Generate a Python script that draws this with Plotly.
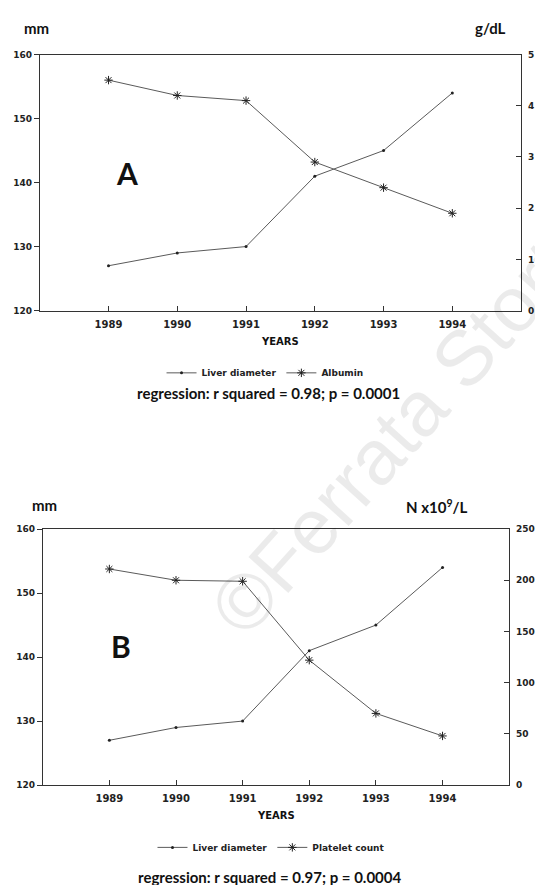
import plotly.graph_objects as go

# page body has an 8px margin; keep the figure inside the 543x893 window
PAD = 8
W, H = 543 - 2 * PAD, 893 - 2 * PAD

years = [1989, 1990, 1991, 1992, 1993, 1994]
liver_diameter_mm = [127, 129, 130, 141, 145, 154]
albumin_g_dl = [4.5, 4.2, 4.1, 2.9, 2.4, 1.9]
platelet_count = [211, 200, 199, 122, 70, 48]

mm_ticks = [120, 130, 140, 150, 160]
albumin_ticks = [0, 1, 2, 3, 4, 5]
platelet_ticks = [0, 50, 100, 150, 200, 250]

LINE = "#5a5a5a"
AX = "#333333"
NARROW = "Lato, Roboto, sans-serif"
TICKF = dict(family="DejaVu Sans", size=9, color="#222", weight="bold")
XTICKF = dict(family="DejaVu Sans", size=10, color="#222", weight="bold")


def px_x(p):
    return (p - PAD) / W


def px_y(p):
    return 1 - (p - PAD) / H


fig = go.Figure()

# Panel A
fig.add_trace(go.Scatter(x=years, y=liver_diameter_mm, name="Liver diameter", mode="lines+markers",
                         line=dict(color=LINE, width=1), marker=dict(symbol="circle", size=3, color="#222"),
                         xaxis="x", yaxis="y", legend="legend"))
fig.add_trace(go.Scatter(x=years, y=albumin_g_dl, name="Albumin", mode="lines+markers",
                         line=dict(color=LINE, width=1),
                         marker=dict(symbol="asterisk-open", size=7, color="#222", line=dict(width=1, color="#222")),
                         xaxis="x", yaxis="y2", legend="legend"))
# Panel B
fig.add_trace(go.Scatter(x=years, y=liver_diameter_mm, name="Liver diameter", mode="lines+markers",
                         line=dict(color=LINE, width=1), marker=dict(symbol="circle", size=3, color="#222"),
                         xaxis="x2", yaxis="y3", legend="legend2"))
fig.add_trace(go.Scatter(x=years, y=platelet_count, name="Platelet count", mode="lines+markers",
                         line=dict(color=LINE, width=1),
                         marker=dict(symbol="asterisk-open", size=7, color="#222", line=dict(width=1, color="#222")),
                         xaxis="x2", yaxis="y4", legend="legend2"))

common_x = dict(range=[1988, 1995], tickvals=years, ticktext=[str(y) for y in years],
                ticks="inside", ticklen=5, tickcolor=AX, showline=True, linecolor=AX, linewidth=1,
                mirror=True, showgrid=False, zeroline=False, tickfont=XTICKF, ticklabelstandoff=4)

fig.update_layout(
    width=W, height=H, margin=dict(l=0, r=0, t=0, b=0),
    paper_bgcolor="white", plot_bgcolor="white", showlegend=True,
    xaxis=dict(domain=[px_x(40), px_x(525)], anchor="y", **common_x),
    yaxis=dict(domain=[px_y(309), px_y(50)], anchor="x", range=[120, 160], tickvals=mm_ticks,
               ticks="outside", ticklen=5, tickcolor=AX, showline=True, linecolor=AX, linewidth=1,
               showgrid=False, zeroline=False, tickfont=TICKF),
    yaxis2=dict(overlaying="y", side="right", anchor="x", range=[0, 5], tickvals=albumin_ticks,
                ticks="inside", ticklen=5, tickcolor=AX, showline=True, linecolor=AX, linewidth=1,
                showgrid=False, zeroline=False, tickfont=TICKF, ticklabelstandoff=4),
    xaxis2=dict(domain=[px_x(43), px_x(513)], anchor="y3", **common_x),
    yaxis3=dict(domain=[px_y(789), px_y(530)], anchor="x2", range=[120, 160], tickvals=mm_ticks,
                ticks="outside", ticklen=5, tickcolor=AX, showline=True, linecolor=AX, linewidth=1,
                showgrid=False, zeroline=False, tickfont=TICKF),
    yaxis4=dict(overlaying="y3", side="right", anchor="x2", range=[0, 250], tickvals=platelet_ticks,
                ticks="inside", ticklen=5, tickcolor=AX, showline=True, linecolor=AX, linewidth=1,
                showgrid=False, zeroline=False, tickfont=TICKF, ticklabelstandoff=4),
    legend=dict(orientation="h", x=px_x(267), y=px_y(372), xanchor="center", yanchor="middle",
                font=dict(family="DejaVu Sans", size=9, color="#222", weight="bold"),
                bgcolor="rgba(0,0,0,0)", itemwidth=30, tracegroupgap=0),
    legend2=dict(orientation="h", x=px_x(273), y=px_y(852), xanchor="center", yanchor="middle",
                 font=dict(family="DejaVu Sans", size=9, color="#222", weight="bold"),
                 bgcolor="rgba(0,0,0,0)", itemwidth=30, tracegroupgap=0),
)

ann = []


def text(x, y, s, size, family=NARROW, weight="bold", xanchor="center", color="#111"):
    ann.append(dict(x=px_x(x), y=px_y(y), xref="paper", yref="paper", text=s, showarrow=False,
                    xanchor=xanchor, yanchor="middle",
                    font=dict(family=family, size=size, color=color, weight=weight)))


# Watermark
ann.append(dict(x=px_x(400), y=px_y(432), xref="paper", yref="paper", text="©Ferrata Storti",
                showarrow=False, textangle=-48, xanchor="center", yanchor="middle",
                font=dict(family="Liberation Sans, sans-serif", size=78, color="rgba(0,0,0,0.08)")))

text(22, 23, "mm", 15, xanchor="left")
text(477, 23, "g/dL", 15, xanchor="left")
text(128, 170, "A", 30)
text(282, 340, "YEARS", 10, family="DejaVu Sans")
text(270, 392, "regression: r squared = 0.98; p = 0.0001", 15)

text(30, 506, "mm", 15, xanchor="left")
text(407, 507, "N x10<sup>9</sup>/L", 15, xanchor="left")
text(122, 648, "B", 30)
text(278, 820, "YEARS", 10, family="DejaVu Sans")
text(272, 882, "regression: r squared = 0.97; p = 0.0004", 15)

fig.update_layout(annotations=ann)
fig.write_html("out.html")
